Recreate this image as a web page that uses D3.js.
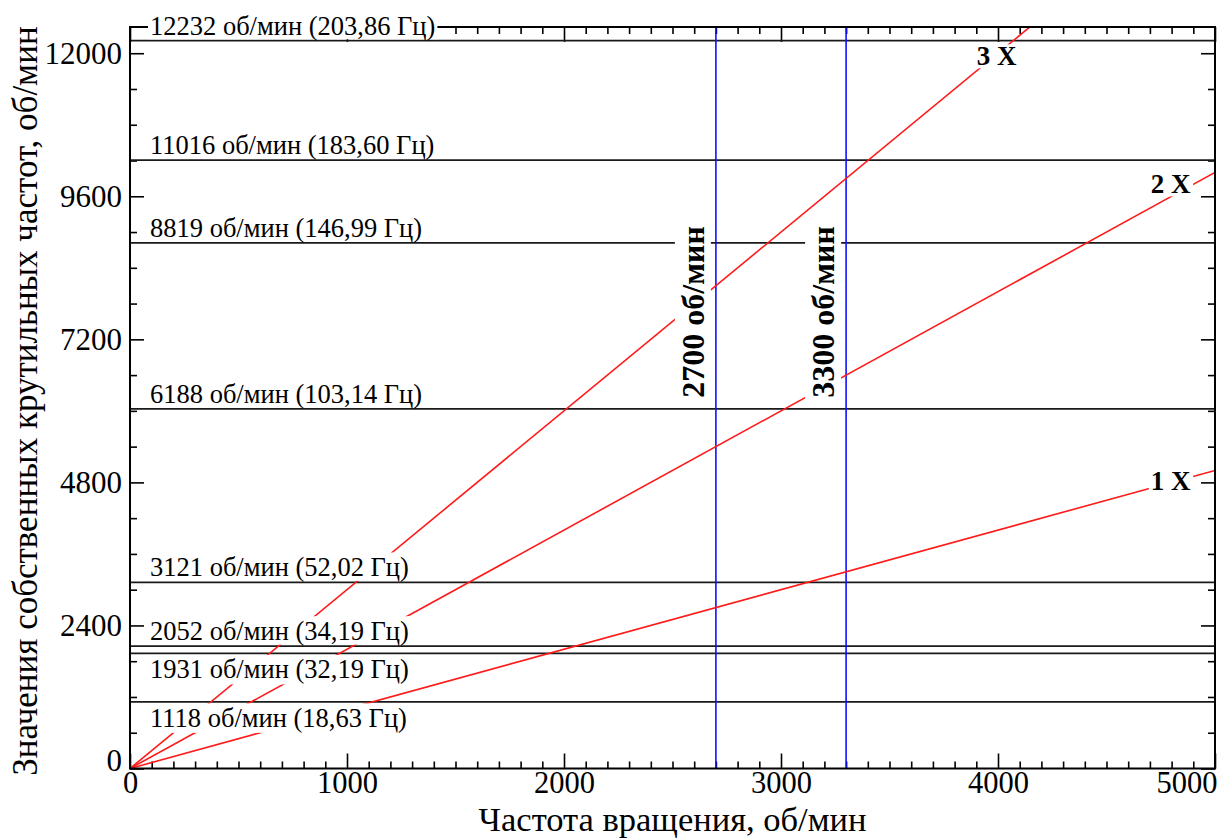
<!DOCTYPE html>
<html><head><meta charset="utf-8">
<script src="https://cdn.jsdelivr.net/npm/d3@7"></script>
<style>
body{margin:0;background:#fff}
text{font-family:"Liberation Serif","Times New Roman",serif;fill:#000}
</style>
</head><body>
<svg id="c" width="1223" height="839"></svg>
<script>
// ---------- data ----------
const xMajorTicks = [0, 1000, 2000, 3000, 4000, 5000];
const yMajorTicks = [0, 2400, 4800, 7200, 9600, 12000];
const xMinorStep = 100;
const yMinorStep = 600;
const xDomain = [0, 5000];
const yDomain = [0, 12440];

const freqLabels = [
  "12232 об/мин (203,86 Гц)",
  "11016 об/мин (183,60 Гц)",
  "8819 об/мин (146,99 Гц)",
  "6188 об/мин (103,14 Гц)",
  "3121 об/мин (52,02 Гц)",
  "2052 об/мин (34,19 Гц)",
  "1931 об/мин (32,19 Гц)",
  "1118 об/мин (18,63 Гц)"
];
// levels where the horizontal lines are drawn in the picture
const freqLevels = [12210, 10205, 8819, 6032, 3121, 2052, 1931, 1118];
const freqLabelBelow = [false, false, false, false, false, false, true, true];

const speedMarks = [2700, 3300];
const speedLabels = ["2700 об/мин", "3300 об/мин"];

const orderLabels = ["1 X", "2 X", "3 X"];
const order1 = [[0, 0], [5000, 5000]];
const order2 = [[0, 0], [5000, 10000]];
const order3 = [[0, 0], [5000, 15000]];
const orderLines = [order1, order2, order3];
const orderLabelAnchor = [[4796, 4824], [4796, 9807], [3994, 11955]];
const speedLabelLevel = 7660;

const xTitle = "Частота вращения, об/мин";
const yTitle = "Значения собственных крутильных частот, об/мин";

// ---------- layout ----------
const L = 130, R = 1215, T = 27, B = 768.5;
const x = d3.scaleLinear().domain(xDomain).range([L, R]);
const y = d3.scaleLinear().domain(yDomain).range([B, T]);
const svg = d3.select("#c");

svg.append("defs").append("clipPath").attr("id", "plot")
  .append("rect").attr("x", L).attr("y", T).attr("width", R - L).attr("height", B - T);

const xMinor = d3.range(xDomain[0], xDomain[1] + 1, xMinorStep).filter(v => !xMajorTicks.includes(v));
const yMinor = d3.range(0, 12001, yMinorStep).filter(v => !yMajorTicks.includes(v));

function tickAxis(axisFn, scale, values, size, translate) {
  const g = svg.append("g").attr("transform", translate)
    .call(axisFn(scale).tickValues(values).tickSize(size).tickFormat(""));
  g.select(".domain").remove();
  g.selectAll(".tick line").attr("stroke", "#000").attr("stroke-width", 1.6);
  return g;
}
// inward ticks on all 4 sides
tickAxis(d3.axisBottom, x, xMinor, -7, `translate(0,${B})`);
tickAxis(d3.axisBottom, x, xMajorTicks, -15, `translate(0,${B})`);
tickAxis(d3.axisTop, x, xMinor, -7, `translate(0,${T})`);
tickAxis(d3.axisTop, x, xMajorTicks, -15, `translate(0,${T})`);
tickAxis(d3.axisLeft, y, yMinor, -7, `translate(${L},0)`);
tickAxis(d3.axisLeft, y, yMajorTicks, -14, `translate(${L},0)`);
tickAxis(d3.axisRight, y, yMinor, -7, `translate(${R},0)`);
tickAxis(d3.axisRight, y, yMajorTicks, -14, `translate(${R},0)`);

// tick labels
const xl = svg.append("g").attr("transform", `translate(0,${B})`)
  .call(d3.axisBottom(x).tickValues(xMajorTicks).tickSize(0).tickPadding(3).tickFormat(d3.format("d")));
xl.select(".domain").remove();
xl.selectAll("text").style("font-family", '"Liberation Serif",serif').attr("font-size", 30.5).attr("fill", "#000");
xl.selectAll(".tick").filter(d => d === 5000).select("text").attr("text-anchor", "end").attr("x", 2);

const yl = svg.append("g").attr("transform", `translate(${L},0)`)
  .call(d3.axisLeft(y).tickValues(yMajorTicks).tickSize(0).tickPadding(8).tickFormat(d3.format("d")));
yl.select(".domain").remove();
yl.selectAll("text").style("font-family", '"Liberation Serif",serif').attr("font-size", 31).attr("fill", "#000");
yl.selectAll(".tick").filter(d => d === 0).select("text").attr("y", -8);

// plot lines
const plot = svg.append("g").attr("clip-path", "url(#plot)");
plot.selectAll("line.freq").data(freqLevels).join("line")
  .attr("x1", L).attr("x2", R).attr("y1", d => y(d)).attr("y2", d => y(d))
  .attr("stroke", "#1a1a1a").attr("stroke-width", 1.8);
plot.selectAll("line.speed").data(speedMarks).join("line")
  .attr("x1", d => x(d)).attr("x2", d => x(d)).attr("y1", T).attr("y2", B)
  .attr("stroke", "#1010ff").attr("stroke-width", 1.6);
const line = d3.line().x(d => x(d[0])).y(d => y(d[1]));
plot.selectAll("path.order").data(orderLines).join("path")
  .attr("d", line).attr("fill", "none").attr("stroke", "#ff1a1a").attr("stroke-width", 1.6);

// frame
svg.append("rect").attr("x", L).attr("y", T).attr("width", R - L).attr("height", B - T)
  .attr("fill", "none").attr("stroke", "#000").attr("stroke-width", 2);

// horizontal labels with white knockout boxes
freqLabels.forEach((t, i) => {
  const ly = y(freqLevels[i]);
  const below = freqLabelBelow[i];
  const g = svg.append("g");
  const txt = g.append("text").attr("x", 150).attr("y", below ? ly + 25 : ly - 6)
    .attr("font-size", 26.5).text(t);
  const bb = txt.node().getBBox();
  let top = bb.y, bot = bb.y + bb.height;
  if (below) top = Math.max(top, ly + 1.5); else bot = Math.min(bot, ly - 1.5);
  g.insert("rect", "text").attr("x", bb.x - 2).attr("y", top).attr("width", bb.width + 4)
    .attr("height", bot - top).attr("fill", "#fff");
});

// rotated speed labels
speedLabels.forEach((t, i) => {
  const g = svg.append("g").attr("transform", `translate(${x(speedMarks[i]) - 12},${y(speedLabelLevel)}) rotate(-90)`);
  const txt = g.append("text").attr("text-anchor", "middle").attr("font-size", 32)
    .attr("font-weight", "bold").text(t);
  const bb = txt.node().getBBox();
  g.insert("rect", "text").attr("x", bb.x - 1).attr("y", bb.y).attr("width", bb.width + 2)
    .attr("height", bb.height).attr("fill", "#fff");
});

// order labels
orderLabels.forEach((t, i) => {
  const g = svg.append("g");
  const txt = g.append("text").attr("x", x(orderLabelAnchor[i][0])).attr("y", y(orderLabelAnchor[i][1]))
    .attr("dy", "0.35em").attr("text-anchor", "middle").attr("font-size", 27).attr("font-weight", "bold").text(t);
  const bb = txt.node().getBBox();
  g.insert("rect", "text").attr("x", bb.x - 2).attr("y", bb.y + 3).attr("width", bb.width + 4)
    .attr("height", bb.height - 6).attr("fill", "#fff");
});

// axis titles
svg.append("text").attr("x", (L + R) / 2).attr("y", 830.5).attr("text-anchor", "middle")
  .attr("font-size", 34.5).text(xTitle);
svg.append("text").attr("transform", `translate(37,401) rotate(-90)`).attr("text-anchor", "middle")
  .attr("font-size", 35).text(yTitle);
</script>
</body></html>
